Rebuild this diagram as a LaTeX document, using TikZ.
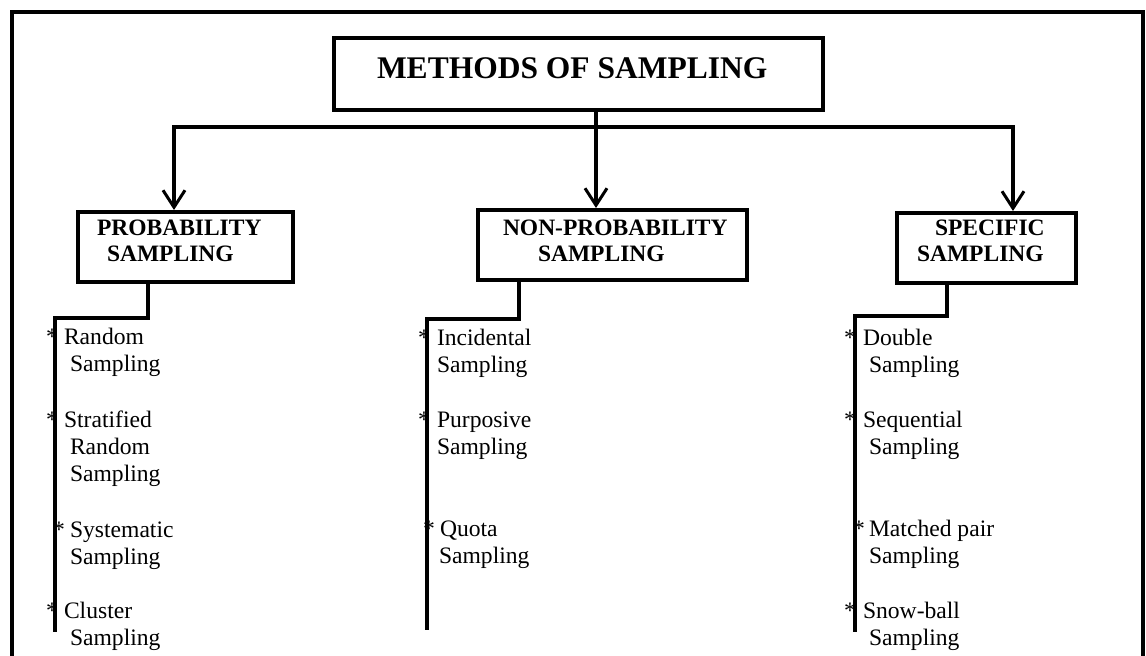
\documentclass[tikz,border=0pt]{standalone}
\usepackage{fontspec}
\setmainfont{Liberation Serif}
\usetikzlibrary{arrows.meta}
\begin{document}
\begin{tikzpicture}[x=1pt,y=-1pt,
  >={Straight Barb[length=17pt,width=22pt,line width=3pt]},
  frame/.style={line width=4pt},
  boxed/.style={draw,line width=4pt,inner sep=0pt,outer sep=2pt},
  conn/.style={line width=3.5pt},
  ttl/.style={anchor=base west,inner sep=0pt,outer sep=0pt,font=\fontsize{31.5pt}{36pt}\selectfont\bfseries},
  cat/.style={anchor=base west,inner sep=0pt,outer sep=0pt,font=\fontsize{23.5pt}{26pt}\selectfont\bfseries},
  itm/.style={anchor=base west,inner sep=0pt,outer sep=0pt,font=\fontsize{23.6pt}{27.3pt}\selectfont},
  ast/.style={anchor=base west,inner sep=0pt,outer sep=0pt,font=\fontsize{23.6pt}{27.3pt}\selectfont}]
\useasboundingbox (0,0) rectangle (1146,656);
\fill[white] (0,0) rectangle (1146,656);
% outer frame
\draw[frame] (12,656) -- (12,12) -- (1143,12) -- (1143,656);
% title
\node[boxed,minimum width=489pt,minimum height=72pt] (title) at (578.5,74) {};
\node[ttl] (titletext) at (377,78) {METHODS OF SAMPLING};
% category boxes
\node[boxed,minimum width=215pt,minimum height=70pt] (pbox) at (185.5,247) {};
\node[cat] (ptext) at (97,235) {\vtop{\hbox{PROBABILITY}\hbox{\hspace{10pt}SAMPLING}}};
\node[boxed,minimum width=269pt,minimum height=70pt] (nbox) at (612.5,245) {};
\node[cat] (ntext) at (503,235) {\vtop{\hbox{NON-PROBABILITY}\hbox{\hspace{35pt}SAMPLING}}};
\node[boxed,minimum width=179pt,minimum height=70pt] (sbox) at (986.5,248) {};
\node[cat] (stext) at (935,235) {\vtop{\hbox{SPECIFIC}\hbox{\hspace{-18pt}SAMPLING}}};
% items: probability
\node[ast] (pa1) at (46,344) {*};
\node[itm] (pi1) at (64,344) {\vtop{\hbox{Random}\hbox{\hspace{6pt}Sampling}}};
\node[ast] (pa2) at (46,427) {*};
\node[itm] (pi2) at (64,427) {\vtop{\hbox{Stratified}\hbox{\hspace{6pt}Random}\hbox{\hspace{6pt}Sampling}}};
\node[ast] (pa3) at (53,537) {*};
\node[itm] (pi3) at (70,537) {\vtop{\hbox{Systematic}\hbox{Sampling}}};
\node[ast] (pa4) at (46,618) {*};
\node[itm] (pi4) at (64,618) {\vtop{\hbox{Cluster}\hbox{\hspace{6pt}Sampling}}};
% items: non-probability
\node[ast] (na1) at (418,345) {*};
\node[itm] (ni1) at (437,345) {\vtop{\hbox{Incidental}\hbox{Sampling}}};
\node[ast] (na2) at (418,427) {*};
\node[itm] (ni2) at (437,427) {\vtop{\hbox{Purposive}\hbox{Sampling}}};
\node[ast] (na3) at (423,536) {*};
\node[itm] (ni3) at (440,536) {\vtop{\hbox{Quota}\hbox{\hspace{-1pt}Sampling}}};
% items: specific
\node[ast] (sa1) at (844,345) {*};
\node[itm] (si1) at (863,345) {\vtop{\hbox{Double}\hbox{\hspace{6pt}Sampling}}};
\node[ast] (sa2) at (844,427) {*};
\node[itm] (si2) at (863,427) {\vtop{\hbox{Sequential}\hbox{\hspace{6pt}Sampling}}};
\node[ast] (sa3) at (853,536) {*};
\node[itm] (si3) at (869,536) {\vtop{\hbox{Matched pair}\hbox{Sampling}}};
\node[ast] (sa4) at (844,618) {*};
\node[itm] (si4) at (863,618) {\vtop{\hbox{Snow-ball}\hbox{\hspace{6pt}Sampling}}};
% connectors
\coordinate (cM) at (596,127);
\coordinate (cL) at (174,127);
\coordinate (cR) at (1013,127);
\draw[conn,->] (title.south -| cM) -- (cM |- nbox.north);
\draw[conn,<->] (cL |- pbox.north) -- (cL) -- (cR) -- (cR |- sbox.north);
\coordinate (pB) at (148,318);
\coordinate (pC) at (55,318);
\coordinate (pD) at (55,632);
\draw[conn] (pbox.south -| pB) -- (pB) -- (pC) -- (pD);
\coordinate (nB) at (519,319);
\coordinate (nC) at (427,319);
\coordinate (nD) at (427,630);
\draw[conn] (nbox.south -| nB) -- (nB) -- (nC) -- (nD);
\coordinate (sB) at (947,316);
\coordinate (sC) at (855,316);
\coordinate (sD) at (855,632);
\draw[conn] (sbox.south -| sB) -- (sB) -- (sC) -- (sD);
\end{tikzpicture}
\end{document}
